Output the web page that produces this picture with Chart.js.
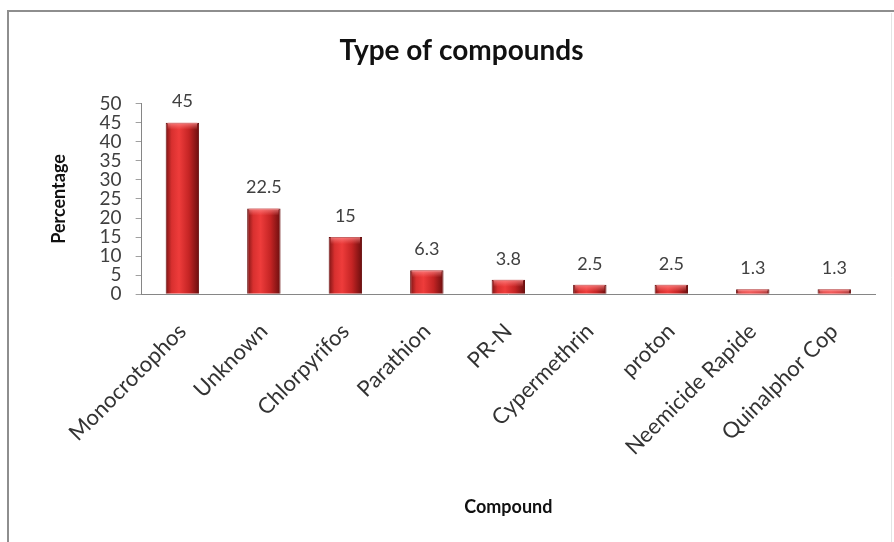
<!DOCTYPE html>
<html>
<head>
<meta charset="utf-8">
<script src="https://cdn.jsdelivr.net/npm/chart.js@4.4.1/dist/chart.umd.min.js"></script>
<style>
  html, body { margin: 0; padding: 0; background: #fff; }
  .wrap { position: relative; width: 894px; height: 542px; }
</style>
</head>
<body>
<div class="wrap"><canvas id="compounds" width="894" height="542"></canvas></div>
<script>
const compounds = [
  "Monocrotophos",
  "Unknown",
  "Chlorpyrifos",
  "Parathion",
  "PR-N",
  "Cypermethrin",
  "proton",
  "Neemicide Rapide",
  "Quinalphor Cop",
];
const percentages = [45, 22.5, 15, 6.3, 3.8, 2.5, 2.5, 1.3, 1.3];
const yTicks = [0, 5, 10, 15, 20, 25, 30, 35, 40, 45, 50];

const fontFamily = "Lato, 'Open Sans', sans-serif";
const barPct = 0.41;

// red cylinder look: dark edges, bright left-center
function barGradient(context) {
  const chart = context.chart;
  const xScale = chart.scales.x;
  if (!xScale || !chart.chartArea) return "#c0262a";
  const cx = xScale.getPixelForValue(context.dataIndex);
  const half = (xScale.width / compounds.length) * barPct / 2;
  const g = chart.ctx.createLinearGradient(cx - half, 0, cx + half, 0);
  g.addColorStop(0, "#7c1414");
  g.addColorStop(0.18, "#d8302f");
  g.addColorStop(0.4, "#ee3c3b");
  g.addColorStop(0.7, "#c42424");
  g.addColorStop(1, "#6a0e0e");
  return g;
}

const framePlugin = {
  id: "frame",
  beforeDraw(chart) {
    const { ctx } = chart;
    ctx.save();
    ctx.fillStyle = "#fff";
    ctx.fillRect(0, 0, chart.width, chart.height);
    ctx.strokeStyle = "#8e8e8e";
    ctx.lineWidth = 2;
    ctx.beginPath();
    ctx.moveTo(8, chart.height);
    ctx.lineTo(8, 11);
    ctx.lineTo(chart.width, 11);
    ctx.stroke();
    ctx.strokeStyle = "#e4e4e4";
    ctx.lineWidth = 1;
    ctx.beginPath();
    ctx.moveTo(891.5, 13);
    ctx.lineTo(891.5, chart.height);
    ctx.stroke();
    ctx.restore();
  },
};

const valueLabels = {
  id: "valueLabels",
  afterDatasetsDraw(chart) {
    const { ctx } = chart;
    const meta = chart.getDatasetMeta(0);
    ctx.save();
    meta.data.forEach((bar, i) => {
      // lighter cap on top of each bar
      const half = bar.width / 2;
      const cap = ctx.createLinearGradient(0, bar.y, 0, bar.y + 7);
      cap.addColorStop(0, "rgba(255,150,150,0.75)");
      cap.addColorStop(1, "rgba(255,120,120,0)");
      ctx.fillStyle = cap;
      ctx.fillRect(bar.x - half + 2, bar.y, bar.width - 4, 7);

      ctx.fillStyle = "#404040";
      ctx.font = "18px " + fontFamily;
      ctx.textAlign = "center";
      ctx.textBaseline = "bottom";
      ctx.fillText(String(percentages[i]), bar.x, bar.y - 12);
    });
    ctx.restore();
  },
};

new Chart(document.getElementById("compounds"), {
  type: "bar",
  data: {
    labels: compounds,
    datasets: [
      {
        label: "Percentage",
        data: percentages,
        backgroundColor: barGradient,
        borderColor: "#6a1010",
        borderWidth: 1,
        barPercentage: barPct,
        categoryPercentage: 1,
      },
    ],
  },
  options: {
    responsive: false,
    animation: false,
    layout: {
      padding: { top: 30, right: 19, bottom: 24, left: 48 },
    },
    plugins: {
      legend: { display: false },
      tooltip: { enabled: false },
      title: {
        display: true,
        text: "Type of compounds",
        color: "#111",
        font: { family: fontFamily, size: 28, weight: "bold" },
        padding: { top: 4, bottom: 36 },
      },
    },
    scales: {
      y: {
        min: 0,
        max: 50,
        afterBuildTicks: (axis) => {
          axis.ticks = yTicks.map((v) => ({ value: v }));
        },
        border: { display: true, color: "#868686", width: 1 },
        grid: {
          drawOnChartArea: false,
          drawTicks: true,
          tickLength: 6,
          color: "#a0a0a0",
        },
        ticks: {
          autoSkip: false,
          color: "#404040",
          padding: 14,
          font: { family: fontFamily, size: 19, lineHeight: 1 },
        },
        title: {
          display: true,
          text: "Percentage",
          color: "#111",
          font: { family: fontFamily, size: 18, weight: "bold" },
          padding: { top: 0, bottom: 16 },
        },
      },
      x: {
        border: { display: true, color: "#868686", width: 1 },
        grid: {
          drawOnChartArea: false,
          drawTicks: false,
        },
        ticks: {
          autoSkip: false,
          minRotation: 45,
          maxRotation: 45,
          color: "#333",
          padding: 24,
          font: { family: fontFamily, size: 22 },
        },
        title: {
          display: true,
          text: "Compound",
          color: "#111",
          font: { family: fontFamily, size: 18, weight: "bold" },
          padding: { top: 12, bottom: 0 },
        },
      },
    },
  },
  plugins: [framePlugin, valueLabels],
});
</script>
</body>
</html>
